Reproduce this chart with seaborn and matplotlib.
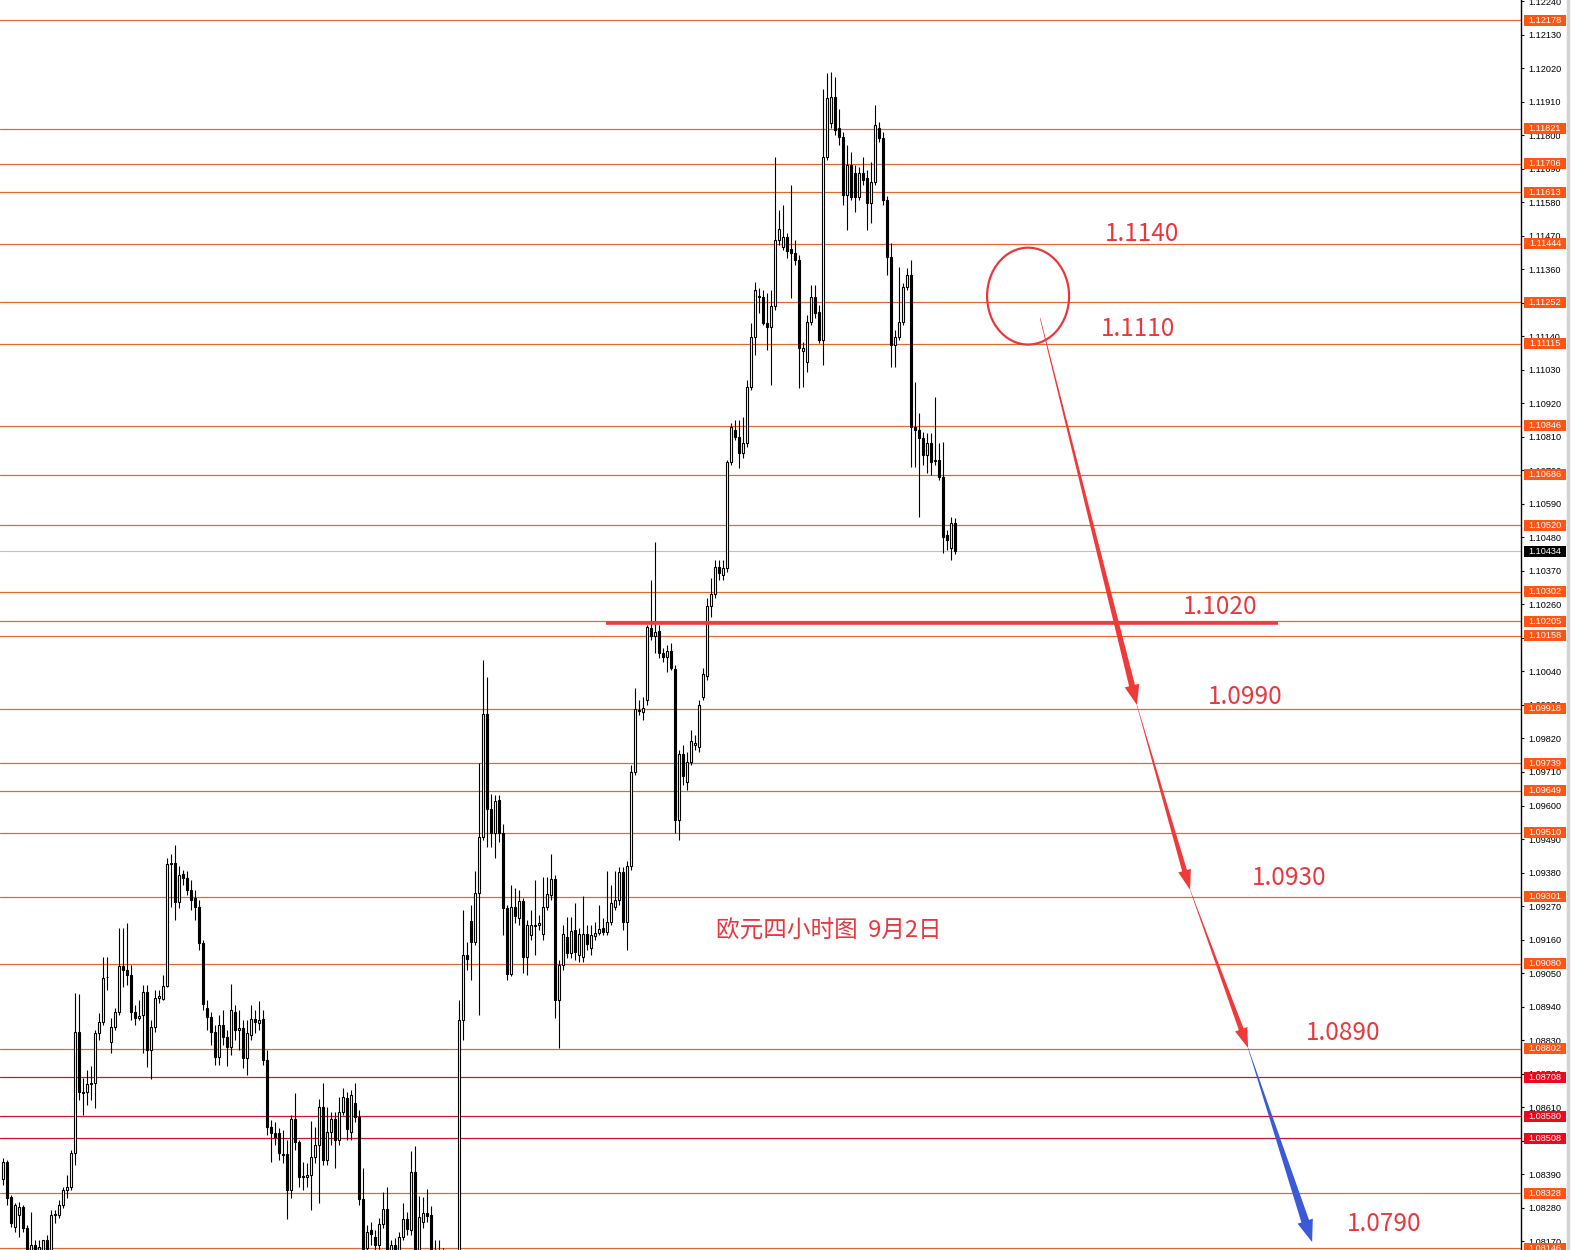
import numpy as np
import pandas as pd
import matplotlib
matplotlib.use("Agg")
import matplotlib.pyplot as plt
import matplotlib.transforms as mtransforms
from matplotlib.patches import Ellipse, Polygon, Rectangle
from matplotlib.lines import Line2D
import seaborn as sns

# EURUSD 4H candles
opens = [
    1.08375, 1.08430, 1.08316, 1.08216, 1.08256, 1.08282, 1.08213, 1.08141, 1.08157, 1.08141,
    1.08141, 1.08174, 1.08141, 1.08256, 1.08256, 1.08289, 1.08338, 1.08348, 1.08460, 1.08857,
    1.08660, 1.08660, 1.08686, 1.08690, 1.08854, 1.08890, 1.09037, 1.08824, 1.08873, 1.08923,
    1.09073, 1.09060, 1.09044, 1.08923, 1.08903, 1.08913, 1.08988, 1.08798, 1.08873, 1.08968,
    1.08965, 1.09008, 1.09408, 1.09411, 1.09283, 1.09375, 1.09362, 1.09323, 1.09296, 1.09267,
    1.09149, 1.08936, 1.08906, 1.08857, 1.08775, 1.08880, 1.08841, 1.08808, 1.08923, 1.08864,
    1.08870, 1.08772, 1.08847, 1.08900, 1.08887, 1.08900, 1.08765, 1.08545, 1.08526, 1.08526,
    1.08457, 1.08457, 1.08338, 1.08572, 1.08495, 1.08384, 1.08381, 1.08388, 1.08447, 1.08486,
    1.08611, 1.08437, 1.08529, 1.08572, 1.08502, 1.08595, 1.08640, 1.08529, 1.08624, 1.08578,
    1.08309, 1.08148, 1.08207, 1.08184, 1.08157, 1.08226, 1.08275, 1.08124, 1.08157, 1.08141,
    1.08184, 1.08243, 1.08207, 1.08398, 1.08141, 1.08233, 1.08262, 1.08256, 1.08141, 1.08115,
    1.08134, 1.08101, 1.08124, 1.08091, 1.08115, 1.08896, 1.09109, 1.09221, 1.09152, 1.09313,
    1.09497, 1.09900, 1.09588, 1.09510, 1.09618, 1.09510, 1.09264, 1.09047, 1.09267, 1.09231,
    1.09287, 1.09103, 1.09175, 1.09208, 1.09208, 1.09178, 1.09267, 1.09306, 1.09359, 1.08962,
    1.09076, 1.09168, 1.09116, 1.09192, 1.09109, 1.09103, 1.09178, 1.09132, 1.09172, 1.09182,
    1.09198, 1.09185, 1.09218, 1.09267, 1.09290, 1.09382, 1.09218, 1.09401, 1.09710, 1.09913,
    1.09907, 1.09946, 1.10183, 1.10157, 1.10173, 1.10101, 1.10088, 1.10108, 1.10049, 1.09553,
    1.09769, 1.09677, 1.09743, 1.09799, 1.09792, 1.09956, 1.10026, 1.10256, 1.10295, 1.10383,
    1.10357, 1.10380, 1.10728, 1.10833, 1.10810, 1.10757, 1.10790, 1.10974, 1.11138, 1.11269,
    1.11269, 1.11183, 1.11170, 1.11239, 1.11456, 1.11433, 1.11466, 1.11427, 1.11413, 1.11390,
    1.11092, 1.11056, 1.11187, 1.11269, 1.11220, 1.11128, 1.11729, 1.11840, 1.11926, 1.11824,
    1.11794, 1.11604, 1.11702, 1.11676, 1.11597, 1.11676, 1.11660, 1.11578, 1.11647, 1.11824,
    1.11791, 1.11587, 1.11400, 1.11112, 1.11138, 1.11187, 1.11302, 1.11341, 1.10843, 1.10833,
    1.10806, 1.10750, 1.10790, 1.10731, 1.10734, 1.10678, 1.10488, 1.10445, 1.10527,
]
highs = [
    1.08444, 1.08437, 1.08322, 1.08295, 1.08298, 1.08289, 1.08223, 1.08266, 1.08174, 1.08174,
    1.08174, 1.08190, 1.08272, 1.08272, 1.08305, 1.08348, 1.08388, 1.08469, 1.08985, 1.08982,
    1.08706, 1.08732, 1.08745, 1.08864, 1.08919, 1.09103, 1.09103, 1.08903, 1.08936, 1.09198,
    1.09198, 1.09214, 1.09076, 1.08946, 1.08962, 1.09011, 1.09011, 1.08896, 1.08995, 1.08995,
    1.09044, 1.09428, 1.09441, 1.09470, 1.09401, 1.09388, 1.09385, 1.09356, 1.09323, 1.09290,
    1.09159, 1.08962, 1.08923, 1.08880, 1.08913, 1.08929, 1.08864, 1.09014, 1.08946, 1.08929,
    1.08896, 1.08896, 1.08946, 1.08929, 1.08959, 1.08929, 1.08798, 1.08568, 1.08562, 1.08542,
    1.08535, 1.08502, 1.08585, 1.08657, 1.08502, 1.08430, 1.08427, 1.08565, 1.08545, 1.08637,
    1.08690, 1.08611, 1.08595, 1.08595, 1.08644, 1.08673, 1.08660, 1.08666, 1.08690, 1.08601,
    1.08411, 1.08223, 1.08233, 1.08207, 1.08246, 1.08331, 1.08348, 1.08174, 1.08180, 1.08200,
    1.08295, 1.08266, 1.08466, 1.08483, 1.08318, 1.08315, 1.08341, 1.08285, 1.08174, 1.08174,
    1.08147, 1.08141, 1.08141, 1.08134, 1.08962, 1.09257, 1.09152, 1.09274, 1.09385, 1.09739,
    1.10078, 1.10022, 1.09638, 1.09635, 1.09635, 1.09539, 1.09274, 1.09339, 1.09329, 1.09323,
    1.09296, 1.09224, 1.09257, 1.09356, 1.09241, 1.09365, 1.09365, 1.09441, 1.09372, 1.09093,
    1.09208, 1.09234, 1.09234, 1.09280, 1.09198, 1.09303, 1.09208, 1.09208, 1.09218, 1.09274,
    1.09231, 1.09385, 1.09339, 1.09385, 1.09398, 1.09398, 1.09418, 1.09733, 1.09986, 1.09946,
    1.09956, 1.10193, 1.10341, 1.10465, 1.10193, 1.10118, 1.10127, 1.10134, 1.10062, 1.09782,
    1.09799, 1.09776, 1.09848, 1.09831, 1.09946, 1.10052, 1.10282, 1.10347, 1.10407, 1.10407,
    1.10407, 1.10734, 1.10856, 1.10866, 1.10866, 1.10875, 1.10997, 1.11184, 1.11318, 1.11298,
    1.11292, 1.11282, 1.11292, 1.11729, 1.11555, 1.11571, 1.11479, 1.11637, 1.11456, 1.11407,
    1.11122, 1.11210, 1.11308, 1.11308, 1.11243, 1.11952, 1.12004, 1.12008, 1.11991, 1.11886,
    1.11811, 1.11768, 1.11745, 1.11702, 1.11696, 1.11729, 1.11686, 1.11712, 1.11899, 1.11844,
    1.11811, 1.11601, 1.11446, 1.11161, 1.11368, 1.11315, 1.11364, 1.11390, 1.10990, 1.10888,
    1.10826, 1.10823, 1.10823, 1.10941, 1.10790, 1.10793, 1.10504, 1.10547, 1.10544,
]
lows = [
    1.08355, 1.08289, 1.08216, 1.08200, 1.08184, 1.08200, 1.08124, 1.08124, 1.08124, 1.08134,
    1.08124, 1.08124, 1.08134, 1.08230, 1.08246, 1.08279, 1.08312, 1.08338, 1.08421, 1.08634,
    1.08585, 1.08618, 1.08634, 1.08608, 1.08831, 1.08880, 1.08995, 1.08788, 1.08864, 1.08913,
    1.09004, 1.09011, 1.08896, 1.08880, 1.08896, 1.08788, 1.08742, 1.08703, 1.08857, 1.08952,
    1.08962, 1.09004, 1.09267, 1.09224, 1.09264, 1.09339, 1.09306, 1.09257, 1.09224, 1.09126,
    1.08929, 1.08864, 1.08814, 1.08749, 1.08749, 1.08814, 1.08745, 1.08781, 1.08831, 1.08798,
    1.08739, 1.08716, 1.08831, 1.08854, 1.08864, 1.08749, 1.08519, 1.08430, 1.08486, 1.08437,
    1.08427, 1.08243, 1.08312, 1.08469, 1.08348, 1.08338, 1.08348, 1.08272, 1.08427, 1.08295,
    1.08421, 1.08421, 1.08486, 1.08411, 1.08486, 1.08585, 1.08502, 1.08502, 1.08562, 1.08289,
    1.08121, 1.08124, 1.08157, 1.08124, 1.08141, 1.08213, 1.08115, 1.08101, 1.08101, 1.08115,
    1.08174, 1.08190, 1.08190, 1.08115, 1.08124, 1.08213, 1.08233, 1.08115, 1.08091, 1.08082,
    1.08075, 1.08075, 1.08069, 1.08069, 1.08101, 1.08831, 1.09060, 1.09027, 1.09142, 1.08913,
    1.09487, 1.09464, 1.09464, 1.09428, 1.09480, 1.09175, 1.09027, 1.09040, 1.09214, 1.09208,
    1.09050, 1.09044, 1.09159, 1.09109, 1.09192, 1.09159, 1.09257, 1.09290, 1.08903, 1.08804,
    1.09060, 1.09099, 1.09099, 1.09093, 1.09086, 1.09086, 1.09126, 1.09109, 1.09159, 1.09175,
    1.09175, 1.09175, 1.09208, 1.09257, 1.09274, 1.09192, 1.09126, 1.09388, 1.09700, 1.09897,
    1.09881, 1.09930, 1.10143, 1.10101, 1.10085, 1.10071, 1.10039, 1.10045, 1.09510, 1.09487,
    1.09667, 1.09651, 1.09733, 1.09782, 1.09776, 1.09946, 1.10012, 1.10219, 1.10282, 1.10341,
    1.10341, 1.10367, 1.10718, 1.10800, 1.10708, 1.10741, 1.10777, 1.10964, 1.11079, 1.11216,
    1.11177, 1.11095, 1.10981, 1.11226, 1.11440, 1.11423, 1.11397, 1.11266, 1.11374, 1.10970,
    1.10974, 1.11023, 1.11177, 1.11200, 1.11118, 1.11046, 1.11719, 1.11824, 1.11801, 1.11768,
    1.11571, 1.11489, 1.11587, 1.11548, 1.11587, 1.11637, 1.11489, 1.11512, 1.11637, 1.11778,
    1.11571, 1.11341, 1.11039, 1.11039, 1.11128, 1.11177, 1.11292, 1.10711, 1.10711, 1.10547,
    1.10718, 1.10691, 1.10685, 1.10718, 1.10669, 1.10429, 1.10439, 1.10406, 1.10426,
]
closes = [
    1.08430, 1.08312, 1.08230, 1.08289, 1.08282, 1.08213, 1.08141, 1.08157, 1.08141, 1.08151,
    1.08174, 1.08141, 1.08256, 1.08259, 1.08289, 1.08338, 1.08348, 1.08460, 1.08857, 1.08660,
    1.08657, 1.08686, 1.08690, 1.08854, 1.08890, 1.09034, 1.09037, 1.08873, 1.08923, 1.09073,
    1.09060, 1.09044, 1.08923, 1.08903, 1.08909, 1.08988, 1.08798, 1.08873, 1.08968, 1.08975,
    1.09008, 1.09408, 1.09411, 1.09283, 1.09372, 1.09362, 1.09323, 1.09290, 1.09267, 1.09149,
    1.08949, 1.08906, 1.08857, 1.08775, 1.08880, 1.08841, 1.08808, 1.08929, 1.08864, 1.08870,
    1.08772, 1.08854, 1.08900, 1.08890, 1.08896, 1.08765, 1.08545, 1.08526, 1.08513, 1.08460,
    1.08453, 1.08338, 1.08572, 1.08495, 1.08381, 1.08381, 1.08388, 1.08447, 1.08486, 1.08611,
    1.08437, 1.08529, 1.08572, 1.08502, 1.08595, 1.08644, 1.08539, 1.08650, 1.08578, 1.08309,
    1.08141, 1.08200, 1.08194, 1.08157, 1.08226, 1.08275, 1.08141, 1.08157, 1.08124, 1.08184,
    1.08243, 1.08210, 1.08398, 1.08141, 1.08249, 1.08262, 1.08253, 1.08141, 1.08115, 1.08134,
    1.08101, 1.08124, 1.08091, 1.08115, 1.08896, 1.09109, 1.09096, 1.09152, 1.09313, 1.09497,
    1.09900, 1.09588, 1.09510, 1.09615, 1.09510, 1.09264, 1.09047, 1.09267, 1.09237, 1.09287,
    1.09103, 1.09208, 1.09208, 1.09204, 1.09214, 1.09267, 1.09310, 1.09359, 1.08962, 1.09076,
    1.09178, 1.09116, 1.09188, 1.09119, 1.09178, 1.09178, 1.09146, 1.09175, 1.09182, 1.09195,
    1.09185, 1.09218, 1.09280, 1.09290, 1.09382, 1.09218, 1.09401, 1.09710, 1.09916, 1.09910,
    1.09920, 1.10186, 1.10157, 1.10170, 1.10101, 1.10088, 1.10108, 1.10052, 1.09553, 1.09769,
    1.09697, 1.09743, 1.09812, 1.09805, 1.09930, 1.10032, 1.10256, 1.10295, 1.10383, 1.10364,
    1.10380, 1.10728, 1.10843, 1.10810, 1.10757, 1.10790, 1.10974, 1.11138, 1.11292, 1.11272,
    1.11183, 1.11170, 1.11239, 1.11456, 1.11492, 1.11466, 1.11420, 1.11413, 1.11390, 1.11102,
    1.11102, 1.11187, 1.11269, 1.11216, 1.11128, 1.11729, 1.11922, 1.11926, 1.11817, 1.11794,
    1.11604, 1.11702, 1.11597, 1.11597, 1.11676, 1.11653, 1.11578, 1.11647, 1.11834, 1.11791,
    1.11587, 1.11400, 1.11112, 1.11138, 1.11187, 1.11302, 1.11341, 1.10843, 1.10833, 1.10806,
    1.10750, 1.10790, 1.10728, 1.10734, 1.10678, 1.10482, 1.10472, 1.10527, 1.10434,
]

# horizontal levels drawn on the chart
orange_levels = [1.12178, 1.11821, 1.11706, 1.11613, 1.11444, 1.11252, 1.11115, 1.10846,
                 1.10686, 1.10520, 1.10302, 1.10205, 1.10158, 1.09918, 1.09739, 1.09649,
                 1.09510, 1.09301, 1.09080, 1.08802, 1.08328, 1.08146]
red_levels = [1.08708, 1.08580, 1.08508]
last_price = 1.10434
axis_ticks = [1.08170, 1.08280, 1.08390, 1.08500, 1.08610, 1.08720, 1.08830, 1.08940,
              1.09050, 1.09160, 1.09270, 1.09380, 1.09490, 1.09600, 1.09710, 1.09820,
              1.09930, 1.10040, 1.10150, 1.10260, 1.10370, 1.10480, 1.10590, 1.10700,
              1.10810, 1.10920, 1.11030, 1.11140, 1.11250, 1.11360, 1.11470, 1.11580,
              1.11690, 1.11800, 1.11910, 1.12020, 1.12130, 1.12240]

# annotations: key level, targets and arrow path (bar index, price)
support_level = 1.1020
support_span = (150.7, 318.7)
target_texts = ["1.1140", "1.1110", "1.1020", "1.0990", "1.0930", "1.0890", "1.0790"]
target_x = [284.6, 283.6, 304.1, 310.4, 321.4, 334.9, 345.1]
target_y = [1.11476, 1.11164, 1.10252, 1.09956, 1.09362, 1.08854, 1.08227]
title_text = "欧元四小时图  9月2日"
title_pos = (206.5, 1.09188)
circle_center = (256.2, 1.11272)
path_x = [259.2, 283.4, 296.7, 311.2, 327.2]
path_y = [1.11200, 1.09930, 1.09323, 1.08804, 1.08167]
path_colors = ["#f03a3a", "#f03a3a", "#f03a3a", "#3a5ad6"]

RED_TXT = "#e8383d"
ORANGE_LINE = "#e0692e"
ORANGE_BOX = "#ff5514"
RED_LINE = "#c8182e"
RED_BOX = "#ea0a1e"

sns.set_theme(style="white")
plt.rcParams["font.family"] = ["Noto Sans CJK SC", "DejaVu Sans"]

W, H = 1571, 1250
AX_W = 1521
fig = plt.figure(figsize=(W / 100, H / 100), dpi=100)
fig.patch.set_facecolor("white")
ax = fig.add_axes([0, 0, AX_W / W, 1])
ax.set_facecolor("white")

df = pd.DataFrame({"open": opens, "high": highs, "low": lows, "close": closes})
df["idx"] = np.arange(len(df))
up = df["close"] >= df["open"]

ax.set_xlim(-0.825, 379.425)
ax.set_ylim(1.08141, 1.12244)
ax.autoscale(False)

# levels
for lv in orange_levels:
    ax.axhline(lv, color=ORANGE_LINE, lw=0.9, zorder=1)
for lv in red_levels:
    ax.axhline(lv, color=RED_LINE, lw=0.9, zorder=1)
ax.axhline(last_price, color="#c0c0c0", lw=0.8, zorder=1)

# candles
ax.vlines(df["idx"], df["low"], df["high"], color="black", lw=0.8, zorder=2)
body_lo = np.minimum(df["open"], df["close"])
body_h = (df["close"] - df["open"]).abs()
ax.bar(df["idx"][up], body_h[up], bottom=body_lo[up], width=0.5,
       facecolor="white", edgecolor="black", lw=0.8, zorder=3)
ax.bar(df["idx"][~up], body_h[~up], bottom=body_lo[~up], width=0.5,
       facecolor="black", edgecolor="black", lw=0.8, zorder=3)

# support line
ax.hlines(support_level, support_span[0], support_span[1], color="#f03c3c", lw=2.6, zorder=4)

# circle
ax.add_patch(Ellipse(circle_center, 20.5, 0.00318, fill=False, ec=RED_TXT, lw=1.6, zorder=5))


def taper_arrow(x0, y0, x1, y1, color, w0, w1, head_w, head_l):
    p0 = ax.transData.transform((x0, y0))
    p1 = ax.transData.transform((x1, y1))
    d = p1 - p0
    u = d / np.hypot(*d)
    n = np.array([-u[1], u[0]])
    base = p1 - u * head_l
    pts = [p0 + n * w0 / 2, base + n * w1 / 2, base + n * head_w / 2, p1,
           base - n * head_w / 2, base - n * w1 / 2, p0 - n * w0 / 2]
    ax.add_patch(Polygon(pts, closed=True, transform=mtransforms.IdentityTransform(),
                         fc=color, ec="none", zorder=6))


arrow_sizes = [(0.6, 6, 15, 20), (0.4, 5, 13, 20), (0.4, 5, 13, 20), (0.4, 8, 16, 22)]
for k in range(4):
    w0, w1, hw, hl = arrow_sizes[k]
    taper_arrow(path_x[k], path_y[k], path_x[k + 1], path_y[k + 1], path_colors[k], w0, w1, hw, hl)

# texts
for t, x, y in zip(target_texts, target_x, target_y):
    ax.text(x, y, t, color=RED_TXT, fontsize=17.5, ha="center", va="center", zorder=7)
ax.text(title_pos[0], title_pos[1], title_text, color=RED_TXT, fontsize=17,
        ha="center", va="center", zorder=7)

# right price axis
sns.despine(ax=ax, left=True, top=True, bottom=True, right=False)
ax.spines["right"].set_color("black")
ax.spines["right"].set_linewidth(1.0)
ax.set_xticks([])
ax.yaxis.tick_right()
ax.set_yticks(axis_ticks)
ax.set_yticklabels([f"{v:.5f}" for v in axis_ticks])
ax.tick_params(axis="y", right=True, length=2.5, width=0.8, pad=3, labelsize=6.6,
               colors="black")
for lab in ax.get_yticklabels():
    lab.set_family(["Liberation Sans", "DejaVu Sans"])

trans = mtransforms.blended_transform_factory(ax.transAxes, ax.transData)
box_h = 11 * (1.12244 - 1.08141) / H
box_x0 = 1 + 3 / AX_W
box_w = 42 / AX_W


def price_box(price, fc):
    ax.add_patch(Rectangle((box_x0, price - box_h / 2), box_w, box_h, transform=trans,
                           fc=fc, ec="none", clip_on=False, zorder=8))
    ax.text(box_x0 + box_w / 2, price, f"{price:.5f}", transform=trans, color="white",
            fontsize=6.6, ha="center", va="center", clip_on=False, zorder=9,
            family=["Liberation Sans", "DejaVu Sans"])


for lv in orange_levels:
    price_box(lv, ORANGE_BOX)
for lv in red_levels:
    price_box(lv, RED_BOX)
price_box(last_price, "black")

fig.add_artist(Line2D([1568 / W, 1568 / W], [0, 1], color="#d4d4d4", lw=2.5,
                      transform=fig.transFigure))

fig.savefig("out.png", dpi=100)
